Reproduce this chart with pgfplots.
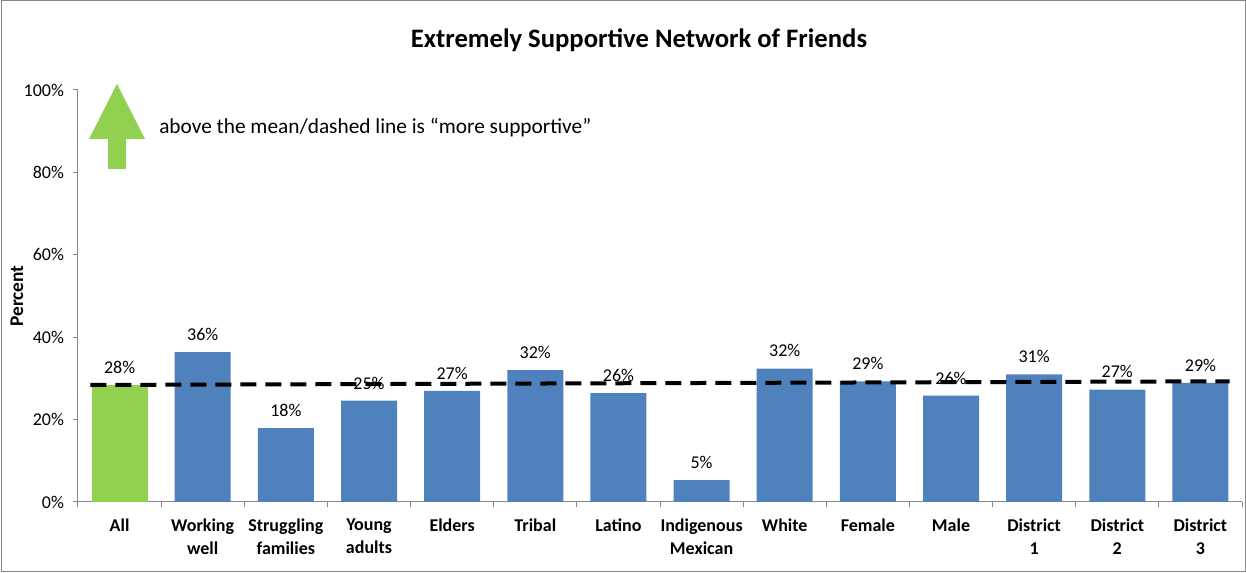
\documentclass[border=0pt]{standalone}
\usepackage{fontspec}
\setmainfont{Carlito}
\usepackage{pgfplots}
\pgfplotsset{compat=1.18}
\definecolor{barblue}{HTML}{4F81BD}
\definecolor{bargreen}{HTML}{92D050}
\definecolor{axisgray}{HTML}{868686}
\begin{document}
\begin{tikzpicture}[x=0.75pt,y=0.75pt]
\useasboundingbox (0,0) rectangle (1246,573);
\draw[axisgray, line width=0.75pt] (1,1) rectangle (1245,572);
\begin{axis}[
  at={(58.5pt,53.25pt)}, anchor=south west,
  scale only axis, width=873pt, height=309pt,
  xmin=-0.5, xmax=13.5, ymin=0, ymax=100,
  ybar, bar width=42pt, bar shift=0pt,
  axis x line*=bottom, axis y line*=left,
  axis line style={axisgray, line width=0.75pt},
  tick style={axisgray, line width=0.75pt},
  tick align=outside,
  ytick={0,20,...,100},
  yticklabel={\pgfmathprintnumber{\tick}\%},
  major tick length=4pt,
  xtick={0,...,13},
  x tick style={draw=none},
  minor xtick={-0.5,0.5,...,13.5},
  minor x tick style={draw=axisgray},
  minor tick length=4pt,
  xticklabels={All,Working\\well,Struggling\\families,Young\\adults,Elders,Tribal,Latino,Indigenous\\Mexican,White,Female,Male,District\\1,District\\2,District\\3},
  xticklabel style={align=center, font=\fontsize{13.5}{17.25}\selectfont\bfseries, yshift=-5pt},
  yticklabel style={font=\fontsize{13.5}{15}\selectfont, xshift=-3pt},
  /pgf/number format/assume math mode=true,
  ylabel={Percent},
  ylabel style={at={(axis description cs:-0.0524,0.5)}, anchor=center, font=\fontsize{14.5}{16}\selectfont\bfseries},
  every node near coord/.append style={font=\fontsize{13.5}{15}\selectfont, yshift=5pt, color=black},
  clip=false,
]
\addplot[fill=bargreen, draw=none, nodes near coords={\pgfmathprintnumber[fixed,precision=0]{\pgfplotspointmeta}\%}] coordinates {(0,28.4)};
\addplot[fill=barblue, draw=none, nodes near coords={\pgfmathprintnumber[fixed,precision=0]{\pgfplotspointmeta}\%}] coordinates {
(1,36.4) (2,17.9) (3,24.6) (4,27.0) (5,32.0) (6,26.4) (7,5.3) (8,32.4) (9,29.3) (10,25.8) (11,31.0) (12,27.3) (13,28.9)};
\addplot[sharp plot, black, line width=3pt, dash pattern=on 12pt off 6.75pt] coordinates {(-0.35,28.4) (13.35,29.3)};
\end{axis}
\node[font=\fontsize{20}{24}\selectfont\bfseries] at (639,533) {Extremely Supportive Network of Friends};
\fill[bargreen] (117,489) -- (145,434) -- (126,434) -- (126,404) -- (108,404) -- (108,434) -- (89,434) -- cycle;
\node[anchor=west, font=\fontsize{16}{19}\selectfont, inner sep=0pt] at (159,445) {above the mean/dashed line is “more supportive”};
\end{tikzpicture}
\end{document}
